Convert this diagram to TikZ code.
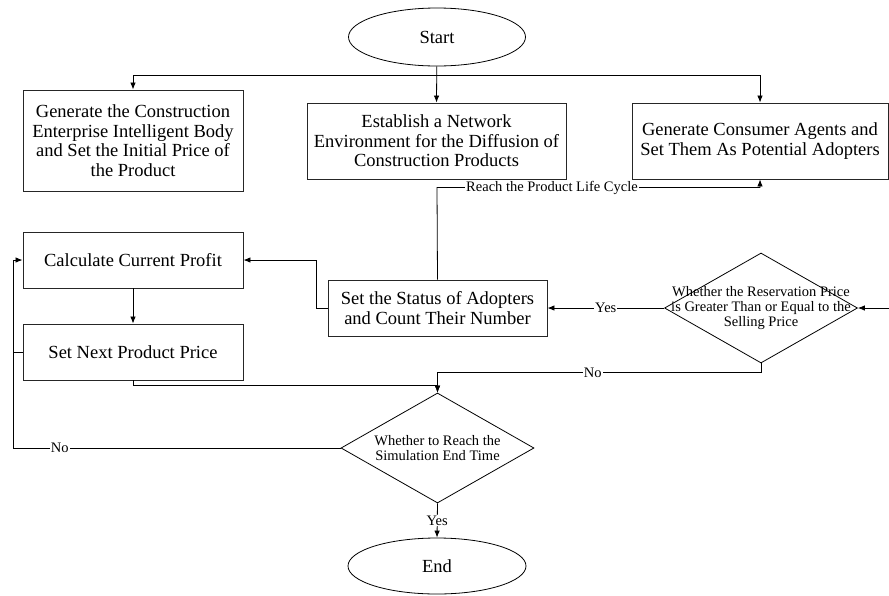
\documentclass[tikz,border=0pt]{standalone}
\usepackage{fontspec}
\setmainfont{Liberation Serif}
\usetikzlibrary{shapes.geometric,arrows.meta}
\begin{document}
\begin{tikzpicture}[x=1pt,y=-1pt,
  procbox/.style={draw=black!85,line width=0.9pt,rectangle,align=center,inner sep=0pt,
    font=\fontsize{18.5}{19.5}\selectfont},
  terminal/.style={draw=black,line width=0.8pt,ellipse,inner sep=0pt,
    font=\fontsize{18.5}{19.5}\selectfont},
  decision/.style={draw=black,line width=0.8pt,diamond,inner sep=0pt},
  dtext/.style={align=center,inner sep=0pt,font=\fontsize{14.5}{15}\selectfont},
  conn/.style={draw=black,line width=0.8pt},
  arr/.style={conn,-{Latex[length=7pt,width=5.5pt]}},
  lab/.style={fill=white,inner sep=1pt,font=\fontsize{14.5}{15}\selectfont}
]
\useasboundingbox (0,0) rectangle (889,595);

% terminals
\node[terminal,minimum width=177pt,minimum height=58pt] (start) at (437,37) {Start};
\node[terminal,minimum width=178pt,minimum height=56pt] (end) at (437,566) {End};

% initialisation steps
\node[procbox,minimum width=220pt,minimum height=101pt] (gen) at (133,140.5)
  {Generate the Construction\\Enterprise Intelligent Body\\and Set the Initial Price of\\the Product};
\node[procbox,minimum width=259pt,minimum height=76pt] (est) at (436.5,141)
  {Establish a Network\\Environment for the Diffusion of\\Construction Products};
\node[procbox,minimum width=256pt,minimum height=76pt] (cons) at (760,141)
  {Generate Consumer Agents and\\Set Them As Potential Adopters};

% pricing loop
\node[procbox,minimum width=220pt,minimum height=56pt] (calc) at (133,260) {Calculate Current Profit};
\node[procbox,minimum width=220pt,minimum height=56pt] (next) at (133,352) {Set Next Product Price};
\node[procbox,minimum width=219pt,minimum height=56pt] (status) at (437.5,308)
  {Set the Status of Adopters\\and Count Their Number};

% decisions
\node[decision,minimum width=193pt,minimum height=110pt] (d1) at (761,308) {};
\node[dtext] (d1t) at (d1) {Whether the Reservation Price\\is Greater Than or Equal to the\\Selling Price};
\node[decision,minimum width=193pt,minimum height=110pt] (d2) at (437.5,448) {};
\node[dtext] (d2t) at (d2) {Whether to Reach the\\Simulation End Time};

% helper points
\coordinate (split) at (437,75);
\coordinate (lc) at (437,187.5);
\coordinate (feed) at (889,308);
\coordinate (loopc) at (13,448);
\coordinate (loopm) at (13,352);

% connectors
\draw[arr] (start) -- (est.north);
\draw[arr] (split) -| (gen.north);
\draw[arr] (split) -| (cons.north);
\draw[arr] (status.north) -- (lc) -| (cons.south) node[lab,pos=0.178] {Reach the Product Life Cycle};
\draw[arr] (status.west) -- ++(-11,0) |- (calc.east);
\draw[arr] (calc.south) -- (next.north);
\draw[arr] (feed) -- (d1.east);
\draw[arr] (d1.west) -- (status.east) node[lab,midway] {Yes};
\draw[arr] (d1.south) -- ++(0,9) -| (d2.north) node[lab,pos=0.26] {No};
\draw[arr] (next.south) -- ++(0,5) -| (d2.north);
\draw[arr] (d2.west) -- (loopc) node[lab,pos=0.857] {No} |- (calc.west);
\draw[conn] (next.west) -- (loopm);
\draw[arr] (d2.south) -- (end.north) node[lab,midway] {Yes};
\end{tikzpicture}
\end{document}
